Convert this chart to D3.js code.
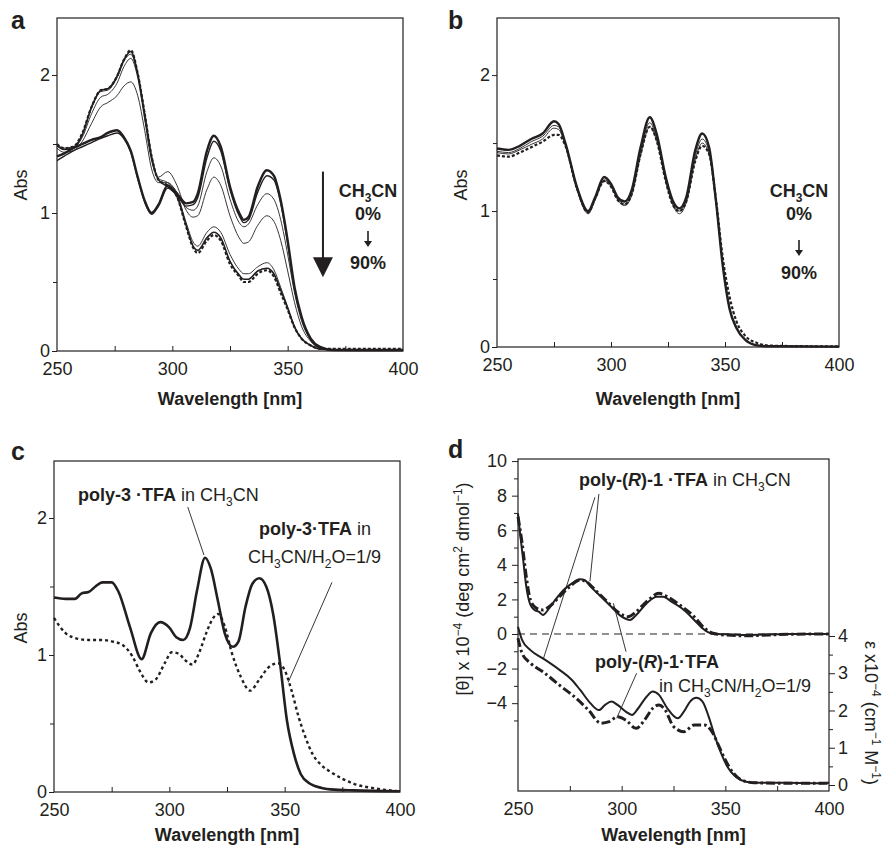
<!DOCTYPE html>
<html>
<head>
<meta charset="utf-8">
<script src="https://cdn.jsdelivr.net/npm/d3@7"></script>
<style>
body { margin: 0; background: #fff; }
text { font-family: "Liberation Sans", Arial, Helvetica, sans-serif; fill: #231f20; }
</style>
</head>
<body>
<svg id="fig" width="887" height="845"></svg>
<script>
// ---- panel a : UV spectra, CH3CN 0% -> 90% ----
var wlA = [250,253,257,261,265,269,272,276,279,282,285,288,291,294,298,302,306,309,311,315,
           318,321,325,329,331,333,337,341,344,347,350,353,356,360,364,370,380,400];
var a0  = [1.41,1.43,1.47,1.50,1.53,1.55,1.58,1.60,1.55,1.45,1.26,1.09,1.00,1.06,1.20,1.14,1.07,1.08,1.14,1.45,
           1.56,1.48,1.19,1.00,0.95,0.97,1.19,1.31,1.27,1.09,0.80,0.46,0.25,0.09,0.03,0.006,0.005,0.005];
var a30 = [1.38,1.41,1.45,1.48,1.51,1.54,1.56,1.58,1.54,1.44,1.25,1.08,0.99,1.05,1.18,1.13,1.05,1.06,1.11,1.40,
           1.52,1.45,1.17,0.98,0.93,0.95,1.15,1.27,1.24,1.07,0.78,0.45,0.24,0.08,0.025,0.006,0.005,0.005];
var a50 = [1.47,1.44,1.45,1.52,1.65,1.77,1.80,1.85,1.92,1.95,1.85,1.60,1.32,1.22,1.22,1.15,1.04,1.02,1.05,1.30,
           1.40,1.34,1.10,0.93,0.90,0.92,1.06,1.14,1.10,0.95,0.70,0.42,0.22,0.08,0.025,0.008,0.008,0.008];
var a60 = [1.49,1.46,1.47,1.55,1.72,1.84,1.86,1.94,2.06,2.12,1.98,1.68,1.38,1.26,1.30,1.20,1.02,0.97,0.98,1.17,
           1.26,1.20,0.98,0.82,0.78,0.79,0.91,0.98,0.94,0.80,0.58,0.35,0.18,0.07,0.02,0.008,0.008,0.008];
var a70 = [1.50,1.47,1.48,1.57,1.76,1.88,1.89,1.98,2.10,2.15,2.00,1.71,1.40,1.25,1.22,1.14,0.93,0.79,0.76,0.86,
           0.90,0.86,0.70,0.59,0.56,0.56,0.61,0.64,0.59,0.46,0.32,0.18,0.09,0.04,0.015,0.01,0.01,0.01];
var a80 = [1.49,1.46,1.47,1.57,1.77,1.89,1.90,1.99,2.11,2.17,2.01,1.72,1.41,1.24,1.19,1.12,0.91,0.76,0.73,0.82,
           0.86,0.82,0.65,0.55,0.52,0.52,0.58,0.60,0.56,0.44,0.31,0.17,0.09,0.04,0.015,0.01,0.01,0.01];
var a90 = [1.50,1.47,1.48,1.58,1.77,1.89,1.90,1.99,2.11,2.18,2.01,1.72,1.41,1.24,1.20,1.12,0.90,0.75,0.71,0.80,
           0.84,0.80,0.63,0.54,0.50,0.50,0.56,0.585,0.54,0.42,0.30,0.17,0.09,0.04,0.017,0.015,0.015,0.015];

// ---- panel b ----
var wlB = [250,255,260,265,270,275,277,280,285,290,293,297,300,303,306,309,313,317,320,324,
           327,330,333,337,340,343,346,349,352,355,359,364,370,400];
var b0  = [1.46,1.45,1.48,1.53,1.57,1.66,1.64,1.50,1.18,1.00,1.10,1.25,1.20,1.10,1.07,1.15,1.47,1.69,1.57,1.25,
           1.08,1.02,1.10,1.45,1.57,1.47,1.08,0.60,0.28,0.14,0.05,0.012,0.005,0.003];
var b1  = [1.44,1.43,1.46,1.51,1.55,1.63,1.62,1.49,1.17,0.99,1.09,1.23,1.19,1.09,1.05,1.13,1.44,1.65,1.54,1.23,
           1.06,1.00,1.08,1.41,1.53,1.44,1.07,0.61,0.29,0.145,0.05,0.013,0.005,0.003];
var b2  = [1.43,1.42,1.45,1.49,1.53,1.61,1.60,1.48,1.16,0.98,1.08,1.22,1.18,1.08,1.04,1.11,1.41,1.62,1.52,1.22,
           1.05,0.98,1.06,1.38,1.50,1.42,1.07,0.62,0.30,0.15,0.055,0.014,0.005,0.003];
var b90 = [1.41,1.40,1.43,1.47,1.51,1.56,1.56,1.48,1.17,0.99,1.09,1.22,1.18,1.08,1.05,1.12,1.42,1.62,1.52,1.22,
           1.05,1.00,1.07,1.37,1.48,1.42,1.09,0.66,0.37,0.19,0.08,0.03,0.01,0.004];

// ---- panel c ----
var wlC1 = [250,255,259,262,265,268,271,275,278,283,288,292,296,300,303,306,309,312,315.5,318,
            321,324,327.5,330,333,336,339,342,345,348,351,354,357,361,366,372,380,400];
var cAcn = [1.42,1.41,1.41,1.45,1.46,1.50,1.53,1.53,1.46,1.20,0.97,1.16,1.24,1.20,1.13,1.11,1.20,1.47,1.71,1.63,
            1.40,1.16,1.06,1.10,1.35,1.52,1.56,1.50,1.30,0.94,0.52,0.28,0.13,0.06,0.03,0.017,0.012,0.005];
var wlC2 = [250,255,260,265,270,275,280,284,287,291,294,298,301,304,307,310,313,316,319,321,
            324,327,331,335,339,343,347,350,353,356,359,362,366,370,375,380,390,400];
var cH2o = [1.27,1.16,1.12,1.11,1.11,1.10,1.07,0.99,0.89,0.80,0.82,0.94,1.02,1.01,0.96,0.93,1.02,1.16,1.27,1.30,
            1.21,1.02,0.84,0.74,0.82,0.91,0.94,0.89,0.74,0.55,0.40,0.28,0.195,0.146,0.097,0.06,0.024,0.005];

// ---- panel d : CD (left axis) and absorption (right axis) ----
var wlD1 = [250,251,252.5,254,256,258,260,262,265,268,272,276,280,282,285,290,295,300,304,307,
            312,317,320,324,330,335,340,343,350,360,380,400];
var cdAcn = [6.97,5.82,4.28,2.74,1.68,1.39,1.29,1.10,1.48,1.97,2.54,2.93,3.16,3.12,2.74,2.16,1.58,1.00,0.81,1.10,
             1.77,2.16,2.16,1.87,1.39,0.81,0.23,0.04,-0.02,-0.06,0,0];
var wlD2 = [250,252,254,256,259,262,265,270,275,280,283,288,293,298,303,307,312,318,322,328,
            335,340,344,350,360,380,400];
var cdH2o = [6.78,5.24,3.31,1.97,1.48,1.39,1.58,2.16,2.74,3.12,3.02,2.45,1.87,1.29,1.00,1.29,1.87,2.35,2.16,1.68,
             1.00,0.33,0.04,-0.06,-0.10,-0.02,0];
var wlD3 = [250,252,256,262,270,276,280,285,289,292,295,298,302,305,308,312,315,318,322,327,
            330,333,336,339,342,345,348,351,355,360,365,380,395,400];
var epsAcn = [4.25,3.89,3.62,3.40,3.09,2.82,2.55,2.19,2.01,2.15,2.24,2.15,1.97,1.88,2.06,2.37,2.51,2.42,2.06,1.79,
              1.97,2.24,2.34,2.24,1.83,1.30,0.85,0.49,0.22,0.09,0.06,0.06,0.045,0.06];
var wlD4 = [250,252,256,262,270,278,284,290,294,298,302,307,311,315,318,321,325,330,335,340,
            344,347,350,354,358,364,380,400];
var epsH2o = [3.94,3.53,3.27,3.04,2.68,2.33,2.01,1.66,1.70,1.83,1.74,1.52,1.74,2.06,2.15,2.01,1.57,1.43,1.61,1.61,
              1.39,1.03,0.67,0.31,0.13,0.06,0.045,0.045];

var xTicks = [250, 300, 350, 400];
var xMinor = [275, 300, 325, 350, 375];

var INK = "#231f20";
var FONT = "Liberation Sans, Arial, Helvetica, sans-serif";
var svg = d3.select("#fig");

function styleAxis(a) {
    a.attr("font-size", 18).attr("font-family", FONT).attr("color", INK);
    a.selectAll("line").attr("stroke-width", 1);
}

function panel(o) {
    var g = svg.append("g");
    var x = d3.scaleLinear().domain([250, 400]).range([o.left, o.right]);
    var y = d3.scaleLinear().domain(o.yDomain).range([o.bottom, o.top]);

    g.append("g")
        .attr("transform", `translate(0,${o.bottom})`)
        .call(d3.axisBottom(x).tickValues(xTicks).tickSize(0).tickPadding(11).tickFormat(d3.format("d")))
        .call(a => a.select(".domain").remove())
        .call(styleAxis);
    g.append("g")
        .attr("transform", `translate(0,${o.bottom})`)
        .call(d3.axisBottom(x).tickValues(xMinor).tickSize(-5).tickFormat(""))
        .call(a => a.select(".domain").remove())
        .call(styleAxis);

    g.append("g")
        .attr("transform", `translate(${o.left},0)`)
        .call(d3.axisLeft(y).tickValues(o.yTicks).tickSize(o.tick || 5).tickPadding(o.pad || 2)
            .tickFormat(o.fmt || d3.format("d")))
        .call(a => a.select(".domain").remove())
        .call(styleAxis);
    g.append("g")
        .attr("transform", `translate(${o.left},0)`)
        .call(d3.axisLeft(y).tickValues(o.yMinor).tickSize(4).tickFormat(""))
        .call(a => a.select(".domain").remove())
        .call(styleAxis);

    g.append("rect")
        .attr("x", o.left).attr("y", o.top)
        .attr("width", o.right - o.left).attr("height", o.bottom - o.top)
        .attr("fill", "none").attr("stroke", INK).attr("stroke-width", 1.2);

    g.append("text")
        .attr("x", o.letterX).attr("y", o.letterY)
        .attr("font-size", 25).attr("font-weight", "bold")
        .text(o.letter);

    g.append("text")
        .attr("x", (o.left + o.right) / 2).attr("y", o.xLabelY)
        .attr("text-anchor", "middle").attr("font-size", 18).attr("font-weight", "bold")
        .text("Wavelength [nm]");

    return { g: g, x: x, y: y };
}

function curve(p, wl, vals, width, dash, yScale) {
    var ys = yScale || p.y;
    var line = d3.line()
        .x(d => p.x(d[0]))
        .y(d => ys(d[1]))
        .curve(d3.curveMonotoneX);
    p.g.append("path")
        .datum(d3.zip(wl, vals))
        .attr("fill", "none")
        .attr("stroke", INK)
        .attr("stroke-width", width)
        .attr("stroke-dasharray", dash || null)
        .attr("stroke-linejoin", "round")
        .attr("d", line);
}

// parts: [text, "b" | "n" | "b i" | "sub" | "sup"]
function rich(sel, parts, small) {
    var shift = 0;
    parts.forEach(function (p) {
        var k = p[1].split(" ");
        var t = sel.append("tspan").text(p[0]);
        var target = 0;
        if (k.indexOf("sub") >= 0) target = 5;
        if (k.indexOf("sup") >= 0) target = -7;
        t.attr("dy", target - shift);
        shift = target;
        if (target != 0) t.attr("font-size", small || 12);
        if (k.indexOf("b") >= 0) t.attr("font-weight", "bold");
        if (k.indexOf("i") >= 0) t.attr("font-style", "italic");
    });
    return sel;
}

function leader(p, x1, y1, x2, y2, yScale) {
    var ys = yScale || p.y;
    p.g.append("line")
        .attr("x1", p.x(x1)).attr("y1", ys(y1))
        .attr("x2", p.x(x2)).attr("y2", ys(y2))
        .attr("stroke", INK).attr("stroke-width", 0.9);
}

function absLabel(p, cx, cy) {
    p.g.append("text")
        .attr("transform", `translate(${cx},${cy}) rotate(-90)`)
        .attr("text-anchor", "middle").attr("font-size", 18)
        .text("Abs");
}

function smallArrow(p, cx, y1, y2) {
    p.g.append("line").attr("x1", cx).attr("x2", cx).attr("y1", y1).attr("y2", y2 - 5)
        .attr("stroke", INK).attr("stroke-width", 1.6);
    p.g.append("path")
        .attr("d", `M${cx - 4},${y2 - 6}L${cx + 4},${y2 - 6}L${cx},${y2}Z`)
        .attr("fill", INK);
}

// ---------------- panel a ----------------
var pa = panel({ left: 57, right: 403, top: 18, bottom: 351, yDomain: [0, 2.413],
    yTicks: [0, 1, 2], yMinor: [0.5, 1.5], letter: "a", letterX: 11, letterY: 29, xLabelY: 405 });
absLabel(pa, 27, 185);
curve(pa, wlA, a50, 0.9);
curve(pa, wlA, a60, 0.9);
curve(pa, wlA, a70, 0.9);
curve(pa, wlA, a30, 1.4);
curve(pa, wlA, a80, 1.6);
curve(pa, wlA, a90, 2.2, "3,2");
curve(pa, wlA, a0, 2.4);

// big arrow
var arX = pa.x(365.3);
pa.g.append("line").attr("x1", arX).attr("x2", arX)
    .attr("y1", pa.y(1.30)).attr("y2", pa.y(0.66))
    .attr("stroke", INK).attr("stroke-width", 2);
pa.g.append("path")
    .attr("d", `M${arX - 10},${pa.y(0.68)}L${arX + 10},${pa.y(0.68)}L${arX},${pa.y(0.535)}Z`)
    .attr("fill", INK);
rich(pa.g.append("text").attr("x", 368).attr("y", 197).attr("text-anchor", "middle").attr("font-size", 18).attr("font-weight", "bold"),
    [["CH", "b"], ["3", "b sub"], ["CN", "b"]]);
pa.g.append("text").attr("x", 368).attr("y", 220).attr("text-anchor", "middle")
    .attr("font-size", 18).attr("font-weight", "bold").text("0%");
smallArrow(pa, 368, 231, 247);
pa.g.append("text").attr("x", 368).attr("y", 269).attr("text-anchor", "middle")
    .attr("font-size", 18).attr("font-weight", "bold").text("90%");

// ---------------- panel b ----------------
var pb = panel({ left: 497, right: 839, top: 18, bottom: 347, yDomain: [0, 2.42],
    yTicks: [0, 1, 2], yMinor: [0.5, 1.5], letter: "b", letterX: 448, letterY: 29, xLabelY: 405 });
absLabel(pb, 467, 185);
curve(pb, wlB, b1, 0.9);
curve(pb, wlB, b2, 0.9);
curve(pb, wlB, b90, 2.2, "3,2");
curve(pb, wlB, b0, 2.4);
rich(pb.g.append("text").attr("x", 799).attr("y", 197).attr("text-anchor", "middle").attr("font-size", 18).attr("font-weight", "bold"),
    [["CH", "b"], ["3", "b sub"], ["CN", "b"]]);
pb.g.append("text").attr("x", 799).attr("y", 220).attr("text-anchor", "middle")
    .attr("font-size", 18).attr("font-weight", "bold").text("0%");
smallArrow(pb, 799, 240, 256);
pb.g.append("text").attr("x", 799).attr("y", 279).attr("text-anchor", "middle")
    .attr("font-size", 18).attr("font-weight", "bold").text("90%");

// ---------------- panel c ----------------
var pc = panel({ left: 54, right: 400, top: 461, bottom: 792, yDomain: [0, 2.416],
    yTicks: [0, 1, 2], yMinor: [0.5, 1.5], letter: "c", letterX: 11, letterY: 460, xLabelY: 841 });
absLabel(pc, 27, 628);
curve(pc, wlC2, cH2o, 2.4, "3,3");
curve(pc, wlC1, cAcn, 2.6);
leader(pc, 308, 2.08, 315, 1.73);
leader(pc, 370.5, 1.53, 351.5, 0.80);
rich(pc.g.append("text").attr("x", 78).attr("y", 501).attr("font-size", 18),
    [["poly-3 ·TFA", "b"], [" in CH", "n"], ["3", "sub"], ["CN", "n"]]);
rich(pc.g.append("text").attr("x", 259).attr("y", 535).attr("font-size", 18),
    [["poly-3·TFA", "b"], [" in", "n"]]);
rich(pc.g.append("text").attr("x", 248).attr("y", 563).attr("font-size", 18),
    [["CH", "n"], ["3", "sub"], ["CN/H", "n"], ["2", "sub"], ["O=1/9", "n"]]);

// ---------------- panel d ----------------
var pd = panel({ left: 518, right: 829, top: 459, bottom: 791, yDomain: [-9.08, 10.12],
    yTicks: [-4, -2, 0, 2, 4, 6, 8, 10], yMinor: [-5, -3, -1, 1, 3, 5, 7, 9], tick: 6, pad: 5,
    letter: "d", letterX: 448, letterY: 458, xLabelY: 841 });
var eps = d3.scaleLinear().domain([-0.161, 8.75]).range([791, 459]);
pd.g.append("g")
    .attr("transform", "translate(829,0)")
    .call(d3.axisRight(eps).tickValues([0, 1, 2, 3, 4]).tickSize(6).tickPadding(3).tickFormat(d3.format("d")))
    .call(a => a.select(".domain").remove())
    .call(styleAxis);
pd.g.append("g")
    .attr("transform", "translate(829,0)")
    .call(d3.axisRight(eps).tickValues([0.5, 1.5, 2.5, 3.5]).tickSize(4).tickFormat(""))
    .call(a => a.select(".domain").remove())
    .call(styleAxis);

pd.g.append("line")
    .attr("x1", pd.x(250)).attr("x2", pd.x(400))
    .attr("y1", pd.y(0)).attr("y2", pd.y(0))
    .attr("stroke", INK).attr("stroke-width", 1).attr("stroke-dasharray", "7,5");

curve(pd, wlD2, cdH2o, 3, "9,3,2.5,3");
curve(pd, wlD1, cdAcn, 2);
curve(pd, wlD4, epsH2o, 3, "9,3,2.5,3", eps);
curve(pd, wlD3, epsAcn, 2, null, eps);

leader(pd, 287.1, 7.9, 262.2, -1.45);
leader(pd, 289.0, 8.1, 284.7, 3.05);
leader(pd, 302.1, -1.02, 296.0, 1.78);
leader(pd, 307.2, -2.27, 297.6, -4.87);

rich(pd.g.append("text").attr("x", 579).attr("y", 486).attr("font-size", 18),
    [["poly-(", "b"], ["R", "b i"], [")-1 ·TFA", "b"], [" in CH", "n"], ["3", "sub"], ["CN", "n"]]);
rich(pd.g.append("text").attr("x", 595).attr("y", 668).attr("font-size", 18),
    [["poly-(", "b"], ["R", "b i"], [")-1·TFA", "b"]]);
rich(pd.g.append("text").attr("x", 659).attr("y", 692).attr("font-size", 18),
    [["in CH", "n"], ["3", "sub"], ["CN/H", "n"], ["2", "sub"], ["O=1/9", "n"]]);

rich(pd.g.append("text").attr("transform", "translate(469,589) rotate(-90)")
        .attr("text-anchor", "middle").attr("font-size", 18),
    [["[θ] x 10", "n"], ["−4", "sup"], [" (deg cm", "n"], ["2", "sup"], [" dmol", "n"], ["−1", "sup"], [")", "n"]]);
rich(pd.g.append("text").attr("transform", "translate(865,713) rotate(90)")
        .attr("text-anchor", "middle").attr("font-size", 18),
    [["ε x10", "n"], ["−4", "sup"], [" (cm", "n"], ["−1", "sup"], [" M", "n"], ["−1", "sup"], [")", "n"]]);
</script>
</body>
</html>
